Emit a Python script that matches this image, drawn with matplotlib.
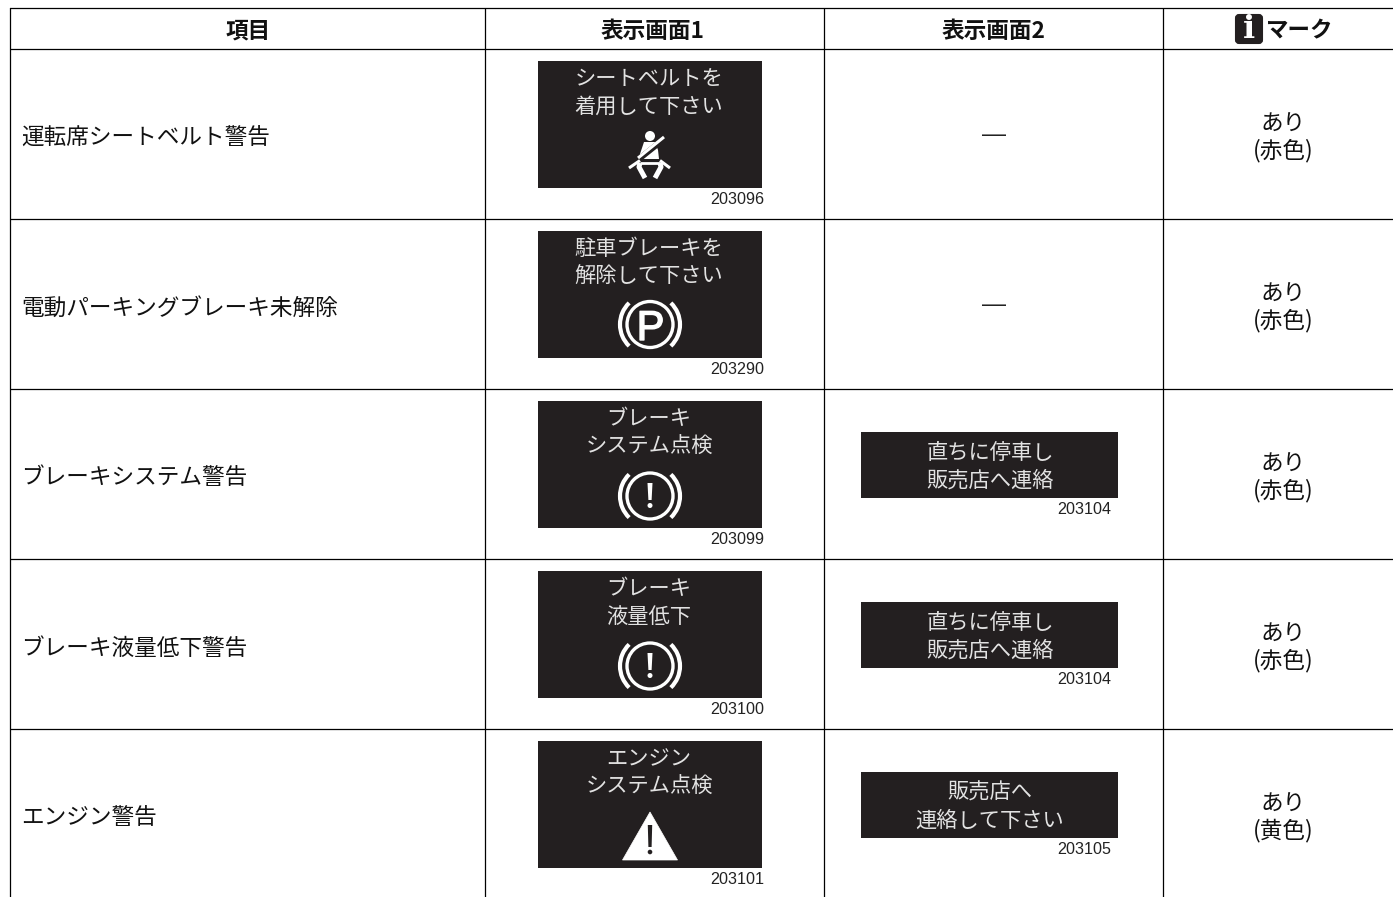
import numpy as np
import matplotlib
matplotlib.use('Agg')
import matplotlib.pyplot as plt
import matplotlib.patheffects as pe
from matplotlib.patches import Rectangle, Circle, Arc, Polygon, FancyBboxPatch

plt.rcParams['font.family'] = ['Noto Sans CJK JP', 'DejaVu Sans']

# Table content
headers = ['項目', '表示画面1', '表示画面2']
mark_header = 'マーク'
items = ['運転席シートベルト警告', '電動パーキングブレーキ未解除', 'ブレーキシステム警告',
         'ブレーキ液量低下警告', 'エンジン警告']
screen1 = [['シートベルトを', '着用して下さい'], ['駐車ブレーキを', '解除して下さい'],
           ['ブレーキ', 'システム点検'], ['ブレーキ', '液量低下'], ['エンジン', 'システム点検']]
icons = ['belt', 'park', 'brake', 'brake', 'warn']
codes1 = ['203096', '203290', '203099', '203100', '203101']
screen2 = [None, None, ['直ちに停車し', '販売店へ連絡'], ['直ちに停車し', '販売店へ連絡'],
           ['販売店へ', '連絡して下さい']]
codes2 = [None, None, '203104', '203104', '203105']
marks = ['(赤色)', '(赤色)', '(赤色)', '(赤色)', '(黄色)']

# Layout in pixels
col_x = [10, 485, 824, 1163]
row_y = [50, 220, 390, 560, 730]
dark = '#231f20'
screen_text = '#e2e2e2'

fig = plt.figure(figsize=(13.93, 8.97), dpi=100)
ax = fig.add_axes([0, 0, 1, 1])
ax.set_xlim(0, 1393)
ax.set_ylim(897, 0)
ax.axis('off')


def draw_belt(cx, top):
    # seat belt pictogram, origin at the head centre
    hy = top + 86
    ax.add_patch(Circle((cx, hy), 5, color='white', lw=0))
    ax.add_patch(Polygon([(cx - 6, hy + 6), (cx + 5, hy + 6), (cx + 8, hy + 14), (cx + 9, hy + 23),
                          (cx - 9, hy + 23), (cx - 10, hy + 18)], color='white', lw=0))
    # dark gap round the strap, then the strap
    ax.plot([cx - 11, cx + 14], [hy + 23, hy + 3], color=dark, lw=4.2, solid_capstyle='butt')
    ax.plot([cx - 12, cx + 14], [hy + 22, hy + 1], color='white', lw=2.2, solid_capstyle='butt')
    # lap belt
    ax.plot([cx - 21, cx - 10], [hy + 32, hy + 24.5], color='white', lw=2.2, solid_capstyle='butt')
    ax.plot([cx + 10, cx + 20], [hy + 24.5, hy + 32], color='white', lw=2.2, solid_capstyle='butt')
    # seat and legs
    ax.plot([cx - 10, cx + 10], [hy + 27, hy + 27], color='white', lw=2, solid_capstyle='butt')
    ax.plot([cx - 10, cx - 11, cx - 5], [hy + 27, hy + 31, hy + 42], color='white', lw=3.6, solid_capstyle='butt')
    ax.plot([cx + 10, cx + 11, cx + 5], [hy + 27, hy + 31, hy + 42], color='white', lw=3.6, solid_capstyle='butt')


def draw_ring(cx, cy):
    ax.add_patch(Circle((cx, cy), 23, fill=False, ec='white', lw=2.4))
    for t1, t2 in [(-46, 46), (134, 226)]:
        ax.add_patch(Arc((cx, cy), 60, 60, theta1=t1, theta2=t2, color='white', lw=3))


def draw_icon(kind, cx, top):
    if kind == 'belt':
        draw_belt(cx, top)
    elif kind == 'park':
        draw_ring(cx, top + 104.5)
        ax.text(cx + 0.5, top + 104.5, 'P', color='white', fontsize=30, ha='center', va='center_baseline',
                family='Liberation Sans',
                path_effects=[pe.withStroke(linewidth=1, foreground='white')])
    elif kind == 'brake':
        draw_ring(cx, top + 106)
        ax.add_patch(Polygon([(cx - 2.5, top + 93), (cx + 2.5, top + 93), (cx + 1.6, top + 110), (cx - 1.6, top + 110)],
                             color='white', lw=0))
        ax.add_patch(Circle((cx, top + 115.5), 2.5, color='white', lw=0))
    else:
        ax.add_patch(Polygon([(cx, top + 82), (cx + 27.5, top + 130), (cx - 27.5, top + 130)], color='white', lw=0.5))
        ax.add_patch(Polygon([(cx - 2.2, top + 95), (cx + 2.2, top + 95), (cx + 1.6, top + 117), (cx - 1.6, top + 117)],
                             color=dark, lw=0))
        ax.add_patch(Circle((cx, top + 122), 2.3, color=dark, lw=0))


# Grid lines
for y in [8.5] + [r - 0.5 for r in row_y]:
    ax.plot([10, 1393], [y, y], color='black', lw=0.9, solid_capstyle='butt', snap=False)
for x in col_x:
    ax.plot([x + 0.5, x + 0.5], [8, 897], color='black', lw=0.9, solid_capstyle='butt', snap=False)

# Header
for h, x in zip(headers, [248, 653, 994]):
    ax.text(x, 31, h, fontsize=16.3, fontweight='bold', ha='center', va='center', color='#111111')
ax.add_patch(FancyBboxPatch((1236, 15), 26, 28, boxstyle='round,pad=0,rounding_size=3', fc=dark, ec=dark, lw=1.5))
ax.text(1249, 30, 'i', color='white', fontsize=23, fontweight='bold', ha='center', va='center', family='DejaVu Serif')
ax.text(1266, 31, mark_header, fontsize=16.2, fontweight='bold', ha='left', va='center', color='#111111')

# Rows
for i, top in enumerate(row_y):
    ax.text(21, top + 88, items[i], fontsize=16.3, ha='left', va='center', color='#111111')

    ax.add_patch(Rectangle((538, top + 11), 224, 127, fc=dark, lw=0))
    for k, line in enumerate(screen1[i]):
        ax.text(649, top + 29 + 27.5 * k, line, fontsize=15.3, ha='center', va='center', color=screen_text)
    draw_icon(icons[i], 650, top)
    ax.text(764, top + 150, codes1[i], fontsize=11.6, ha='right', va='center', color='#222222',
            family='Liberation Sans')

    if screen2[i] is None:
        ax.text(994, top + 85, '—', fontsize=17.3, ha='center', va='center', color='#222222',
                family='Liberation Sans')
    else:
        ax.add_patch(Rectangle((861, top + 42), 257, 66, fc=dark, lw=0))
        for k, line in enumerate(screen2[i]):
            ax.text(990, top + 63 + 28 * k, line, fontsize=15.3, ha='center', va='center', color=screen_text)
        ax.text(1111, top + 120, codes2[i], fontsize=11.6, ha='right', va='center', color='#222222',
                family='Liberation Sans')

    ax.text(1283, top + 74.5, 'あり', fontsize=16.3, ha='center', va='center', color='#111111')
    ax.text(1283, top + 101, marks[i], fontsize=16.3, ha='center', va='center', color='#111111')

fig.savefig('out.png', dpi=100)
